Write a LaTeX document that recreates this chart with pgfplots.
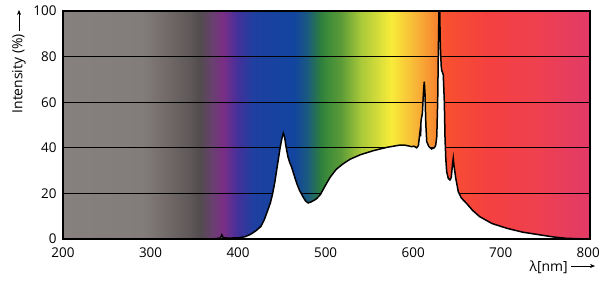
\documentclass[border=0pt]{standalone}
\usepackage{pgfplots}
\pgfplotsset{compat=1.18}
\usepackage{fontspec}
\setmainfont{Open Sans}
\usetikzlibrary{arrows.meta}

\definecolor{s01}{HTML}{86817F}
\definecolor{s02}{HTML}{827D7B}
\definecolor{s03}{HTML}{77706F}
\definecolor{s04}{HTML}{5F5858}
\definecolor{s05}{HTML}{524C4E}
\definecolor{s06}{HTML}{6A3F70}
\definecolor{s07}{HTML}{7A2E86}
\definecolor{s08}{HTML}{45309A}
\definecolor{s09}{HTML}{1E40A0}
\definecolor{s10}{HTML}{1244A0}
\definecolor{s11}{HTML}{1A5A80}
\definecolor{s12}{HTML}{2E7D3E}
\definecolor{s13}{HTML}{3A8A3A}
\definecolor{s14}{HTML}{5A9A38}
\definecolor{s15}{HTML}{A8C83A}
\definecolor{s16}{HTML}{F8EC3A}
\definecolor{s17}{HTML}{F8B838}
\definecolor{s18}{HTML}{F88A30}
\definecolor{s19}{HTML}{F2802C}
\definecolor{s20}{HTML}{F75A2E}
\definecolor{s21}{HTML}{F85030}
\definecolor{s22}{HTML}{F44040}
\definecolor{s23}{HTML}{EE4050}
\definecolor{s24}{HTML}{E23A68}

\pgfdeclarehorizontalshading{spectrum}{100bp}{%
color(0bp)=(s01); color(25bp)=(s01); color(32.475bp)=(s02); color(34.136bp)=(s03);
color(37.043bp)=(s04); color(37.957bp)=(s05); color(39.203bp)=(s06); color(40.199bp)=(s07);
color(41.528bp)=(s08); color(43.106bp)=(s09); color(46.844bp)=(s10); color(48.173bp)=(s11);
color(49.419bp)=(s12); color(49.917bp)=(s13); color(51.329bp)=(s14); color(53.239bp)=(s15);
color(56.146bp)=(s16); color(58.306bp)=(s17); color(60.216bp)=(s18); color(60.672bp)=(s19);
color(60.756bp)=(s20); color(61.212bp)=(s21); color(65.365bp)=(s22); color(70.182bp)=(s23);
color(75bp)=(s24); color(100bp)=(s24)}

\pgfplotsset{
  layers/mylayers/.define layer set={axis background,axis grid,pre main,main,axis ticks,axis lines,axis tick labels,axis descriptions,axis foreground}{/pgfplots/layers/standard},
}

\pgfplotstableread{
x y
370 0
378 0.3
380 0.5
381.5 1.8
383 0.5
390 0.4
400 0.5
408 1
414 2
420 3.5
426 5.5
430 8.5
434 12.7
437 16
439.5 20
442 25
444 30
446 35
448 40
450 44
451.7 46.4
453 45
455 40
457 36
459 33.5
461 31.7
464 28
467 24.4
470 21.5
474 18.6
477 16.7
480 15.8
483 16.2
487 17
490 17.8
494 19.5
499 23
505 27
512 30.5
520 33
528 35
540 37
555 38.8
570 40.2
585 41.2
590 41.2
595 40.8
598 40.5
601 40.7
604 40
606 41
607.8 47
608.5 45
609 52
610.5 55
612 66
612.7 69
613.5 64
614.5 50
615.5 42.7
618 40.5
621 39.5
624 40
625.7 41
627 45
628 60
628.7 80.7
629.5 101
630.3 101
631 85
632 76
632.6 74
634.4 72
635.6 60
636.4 44
637.3 35
638.3 29.5
640.1 26.6
642 25.9
643.5 27
645 33
645.8 35.4
646.7 32
648.6 26.8
651.5 20.8
655 18
661 15.6
668 12.5
676 9.8
690 6.8
707 4.7
725 3
745 1.8
760 0.9
775 0.3
790 0.1
802 0
}\spectrumdata

\begin{document}
\begin{tikzpicture}
\begin{axis}[
  name=ax,
  set layers=mylayers,
  scale only axis,
  width=527bp, height=228bp,
  xmin=200, xmax=802, ymin=0, ymax=100,
  xtick={200,300,...,800},
  ytick={0,20,...,100},
  major tick length=0pt,
  ymajorgrids,
  grid style={black, line width=0.75bp},
  axis line style={black, line width=1.2bp},
  axis background/.style={shading=spectrum},
  tick label style={font=\fontsize{13.5}{15}\selectfont},
  /pgf/number format/assume math mode=true,
  xticklabel style={yshift=-5bp},
  yticklabel style={xshift=-3bp},
]
\addplot[draw=black, line width=1.5bp, fill=white] table[x=x,y=y] {\spectrumdata} \closedcycle;
\end{axis}
\draw[line width=2.2bp] (ax.south west) -- (ax.south east);
\draw[line width=0.7bp, -{Stealth[length=5bp,width=4bp]}] ([xshift=-44bp,yshift=-20bp]ax.north west) -- ([xshift=-44bp,yshift=1bp]ax.north west);
\node[rotate=90, anchor=east, inner sep=0pt, font=\fontsize{14}{16}\selectfont] at ([xshift=-44bp,yshift=-23bp]ax.north west) {Intensity (\%)};
\node[anchor=east, inner sep=0pt, font=\fontsize{14}{16}\selectfont] at ([xshift=-22bp,yshift=-28bp]ax.south east) {λ[nm]};
\draw[line width=0.7bp, -{Stealth[length=5bp,width=4bp]}] ([xshift=-19bp,yshift=-27bp]ax.south east) -- ([xshift=5bp,yshift=-27bp]ax.south east);
\pgfresetboundingbox
\path ([shift={(-63bp,-51bp)}]ax.south west) rectangle ([shift={(10bp,11bp)}]ax.north east);
\end{tikzpicture}
\end{document}
